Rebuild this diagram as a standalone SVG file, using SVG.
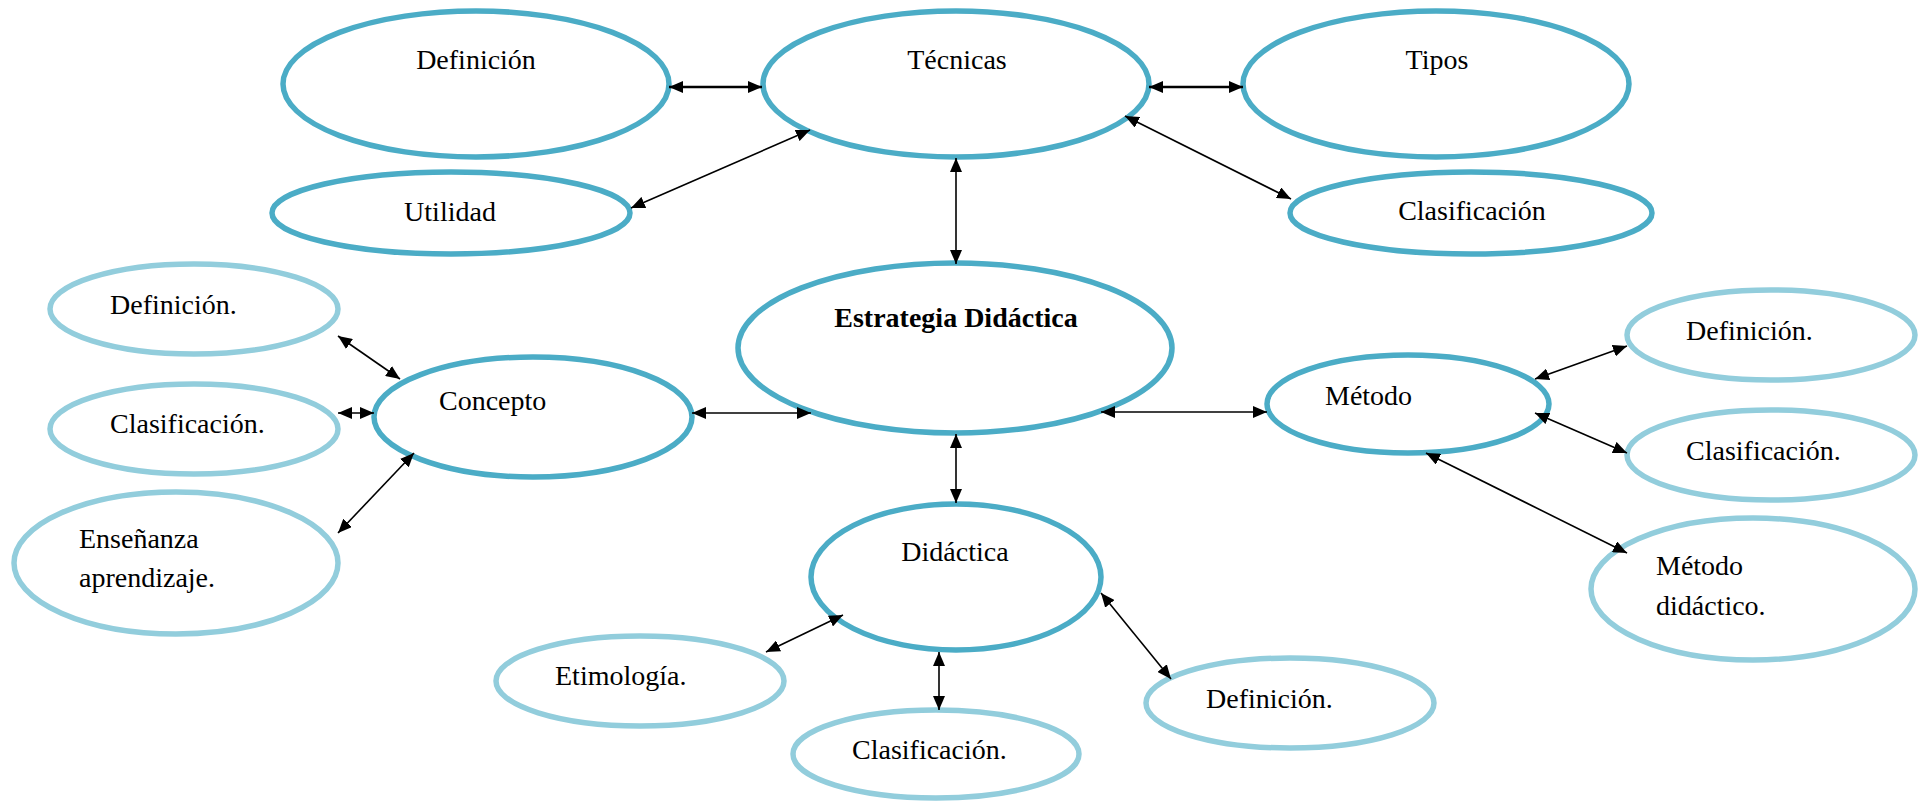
<svg xmlns="http://www.w3.org/2000/svg" width="1927" height="801" viewBox="0 0 1927 801">
<style>
.main{fill:#fff;stroke:#4BACC6;stroke-width:5.5}
.sub{fill:#fff;stroke:#92CDDC;stroke-width:5.5}
text{font-family:"Liberation Serif","Times New Roman",serif;font-size:28px;fill:#000}
.c{text-anchor:middle}
.b{font-weight:bold}
.thick{stroke:#000;stroke-width:2.5;fill:none;marker-start:url(#ah);marker-end:url(#ah)}
.thin{stroke:#000;stroke-width:1.6;fill:none;marker-start:url(#ah);marker-end:url(#ah)}
</style>
<defs>
<marker id="ah" viewBox="0 0 14 12" refX="14" refY="6" markerWidth="14" markerHeight="12" markerUnits="userSpaceOnUse" orient="auto-start-reverse">
<path d="M0,0 L14,6 L0,12 z" fill="#000"/>
</marker>
</defs>
<rect width="1927" height="801" fill="#fff"/>
<g id="definicion-top"><ellipse class="main" cx="476" cy="84" rx="193" ry="73"/><text class="c" x="476" y="69">Definición</text></g>
<g id="tecnicas"><ellipse class="main" cx="956" cy="84" rx="193" ry="73"/><text class="c" x="957" y="69">Técnicas</text></g>
<g id="tipos"><ellipse class="main" cx="1436" cy="84" rx="193" ry="73"/><text class="c" x="1437" y="69">Tipos</text></g>
<g id="utilidad"><ellipse class="main" cx="451" cy="213" rx="179" ry="41"/><text class="c" x="450" y="221">Utilidad</text></g>
<g id="clasificacion-top"><ellipse class="main" cx="1471" cy="213" rx="181" ry="41"/><text class="c" x="1472" y="220">Clasificación</text></g>
<g id="estrategia"><ellipse class="main" cx="955" cy="348" rx="217" ry="85"/><text class="c b" x="956" y="327">Estrategia Didáctica</text></g>
<g id="concepto"><ellipse class="main" cx="533" cy="417" rx="159" ry="60"/><text x="439" y="410">Concepto</text></g>
<g id="metodo"><ellipse class="main" cx="1408" cy="404" rx="141" ry="49"/><text x="1325" y="405">Método</text></g>
<g id="didactica"><ellipse class="main" cx="956" cy="577" rx="145" ry="73"/><text class="c" x="955" y="561">Didáctica</text></g>
<g id="definicion-concepto"><ellipse class="sub" cx="194" cy="309" rx="144" ry="45"/><text x="110" y="314">Definición.</text></g>
<g id="clasificacion-concepto"><ellipse class="sub" cx="194" cy="429" rx="144" ry="45"/><text x="110" y="433">Clasificación.</text></g>
<g id="ensenanza"><ellipse class="sub" cx="176" cy="563" rx="162" ry="71"/><text x="79" y="548">Enseñanza</text><text x="79" y="587">aprendizaje.</text></g>
<g id="definicion-metodo"><ellipse class="sub" cx="1771" cy="335" rx="144" ry="45"/><text x="1686" y="340">Definición.</text></g>
<g id="clasificacion-metodo"><ellipse class="sub" cx="1771" cy="455" rx="144" ry="45"/><text x="1686" y="460">Clasificación.</text></g>
<g id="metodo-didactico"><ellipse class="sub" cx="1753" cy="589" rx="162" ry="71"/><text x="1656" y="575">Método</text><text x="1656" y="615">didáctico.</text></g>
<g id="etimologia"><ellipse class="sub" cx="640" cy="681" rx="144" ry="45"/><text x="555" y="685">Etimología.</text></g>
<g id="clasificacion-didactica"><ellipse class="sub" cx="936" cy="754" rx="143" ry="44"/><text x="852" y="759">Clasificación.</text></g>
<g id="definicion-didactica"><ellipse class="sub" cx="1290" cy="703" rx="144" ry="45"/><text x="1206" y="708">Definición.</text></g>
<g id="connectors">
<line class="thick" x1="669" y1="87" x2="762" y2="87"/>
<line class="thick" x1="1149" y1="87" x2="1243" y2="87"/>
<line class="thin" x1="631" y1="208" x2="810" y2="130"/>
<line class="thin" x1="1125" y1="116" x2="1291" y2="199"/>
<line class="thin" x1="956" y1="158" x2="956" y2="264"/>
<line class="thin" x1="338" y1="336" x2="400" y2="379"/>
<line class="thin" x1="338" y1="413" x2="374" y2="413"/>
<line class="thin" x1="338" y1="533" x2="414" y2="453"/>
<line class="thin" x1="692" y1="413" x2="811" y2="413"/>
<line class="thin" x1="1101" y1="412" x2="1267" y2="412"/>
<line class="thin" x1="956" y1="434" x2="956" y2="503"/>
<line class="thin" x1="1535" y1="379" x2="1627" y2="346"/>
<line class="thin" x1="1535" y1="413" x2="1627" y2="453"/>
<line class="thin" x1="1426" y1="453" x2="1627" y2="553"/>
<line class="thin" x1="843" y1="615" x2="766" y2="652"/>
<line class="thin" x1="939" y1="652" x2="939" y2="710"/>
<line class="thin" x1="1101" y1="593" x2="1171" y2="679"/>
</g>
</svg>
